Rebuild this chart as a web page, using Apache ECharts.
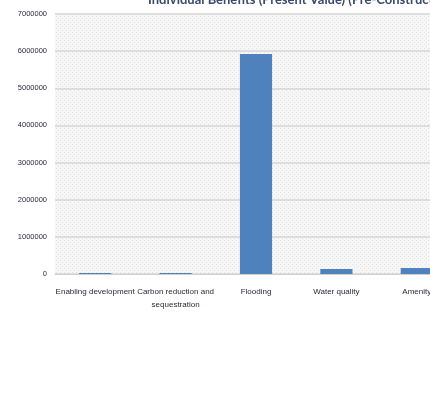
<!DOCTYPE html>
<html>
<head>
<meta charset="utf-8">
<script src="https://cdn.jsdelivr.net/npm/echarts@6/dist/echarts.min.js"></script>
<style>html,body{margin:0;padding:0;background:#fff;}#c{width:430px;height:402px;}</style>
</head>
<body>
<div id="c"></div>
<script>
const titleText = 'Individual Benefits (Present Value) (Pre-Construction)';
const categories = ['Enabling development', 'Carbon reduction and\nsequestration', 'Flooding', 'Water quality', 'Amenity'];
const benefits = [30000, 30000, 5920000, 135000, 160000];
const yTicks = [0, 1000000, 2000000, 3000000, 4000000, 5000000, 6000000, 7000000];

const pc = document.createElement('canvas');
pc.width = 4; pc.height = 4;
const g = pc.getContext('2d');
g.fillStyle = '#f6f6f6'; g.fillRect(0, 0, 4, 4);
g.fillStyle = '#e4e4e4';
g.fillRect(0, 0, 1, 1); g.fillRect(2, 2, 1, 1);

const chart = echarts.init(document.getElementById('c'));
chart.setOption({
  animation: false,
  backgroundColor: '#ffffff',
  title: {
    text: titleText,
    left: 143, top: -12,
    textStyle: { fontFamily: 'Lato', fontWeight: 'bold', fontSize: 13, color: '#3a4a70' }
  },
  grid: {
    left: 55, top: 14, bottom: 128, right: -27,
    outerBoundsMode: 'none',
    containLabel: false,
    show: true, borderWidth: 0,
    backgroundColor: { image: pc, repeat: 'repeat' }
  },
  xAxis: {
    type: 'category',
    data: categories,
    axisLine: { lineStyle: { color: '#cfcfcf', width: 1 } },
    axisTick: { show: false },
    axisLabel: { interval: 0, fontFamily: 'Liberation Sans Narrow, Liberation Sans', fontSize: 8, color: '#2a2a3a', margin: 11, lineHeight: 13 }
  },
  yAxis: {
    type: 'value',
    min: yTicks[0], max: yTicks[yTicks.length - 1], interval: 1000000,
    axisLine: { show: false },
    axisTick: { show: false },
    splitLine: { lineStyle: { color: '#d6d6d6', width: 1.5 } },
    axisLabel: { fontFamily: 'Liberation Sans Narrow, Liberation Sans', fontSize: 7.5, color: '#2a2a3a', margin: 8, formatter: v => String(v) }
  },
  series: [{
    type: 'bar',
    data: benefits,
    barWidth: '40%',
    itemStyle: { color: '#4f81bd' }
  }]
});
</script>
</body>
</html>
